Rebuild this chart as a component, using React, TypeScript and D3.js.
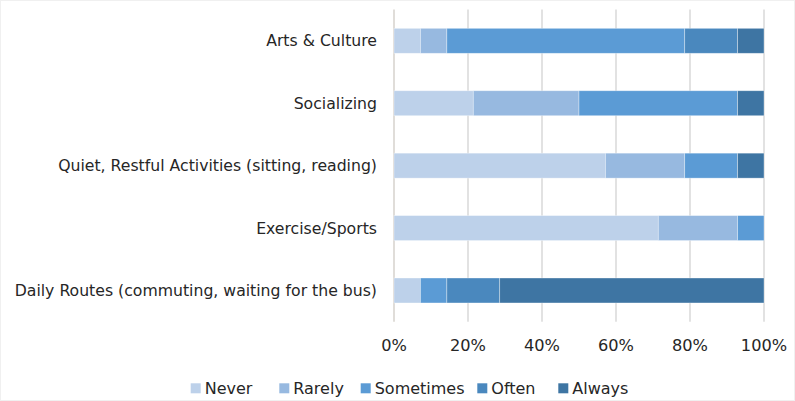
import React from "react";
import * as d3 from "d3";

const categories = [
  "Arts & Culture",
  "Socializing",
  "Quiet, Restful Activities (sitting, reading)",
  "Exercise/Sports",
  "Daily Routes (commuting, waiting for the bus)",
];
const seriesNames = ["Never", "Rarely", "Sometimes", "Often", "Always"];
const never = [7.14, 21.43, 57.14, 71.43, 7.14];
const rarely = [7.14, 28.57, 21.43, 21.43, 0];
const sometimes = [64.29, 42.86, 14.29, 7.14, 7.14];
const often = [14.29, 0, 0, 0, 14.29];
const always = [7.14, 7.14, 7.14, 0, 71.43];
const ticks = [0, 20, 40, 60, 80, 100];
const colors = ["#BDD1EA", "#97B9E0", "#5B9BD5", "#4A88BE", "#3E75A3"];

const W = 795;
const H = 401;
const FONT = "'DejaVu Sans', sans-serif";

export default function App() {
  const x = d3.scaleLinear().domain([0, 100]).range([394, 764]);
  const y = d3.scaleBand().domain(categories).range([9.6, 321.7]).paddingInner(0.6).paddingOuter(0.3);

  const rows = categories.map((c, i) => ({
    cat: c,
    Never: never[i],
    Rarely: rarely[i],
    Sometimes: sometimes[i],
    Often: often[i],
    Always: always[i],
  }));
  const stacked = d3.stack<any>().keys(seriesNames)(rows);

  const legendX = [190.7, 279.3, 360.7, 477.3, 558.3];

  return (
    <svg
      width={W}
      height={H}
      style={{ position: "fixed", left: 0, top: 0, background: "#fff" }}
      fontFamily={FONT}
    >
      <rect x={0.5} y={0.5} width={W - 1} height={H - 1} fill="#fff" stroke="#f0f0f0" />
      {ticks.map((t) => (
        <line
          key={t}
          x1={x(t)}
          x2={x(t)}
          y1={9.6}
          y2={321.7}
          stroke={t === 0 ? "#D6D2CC" : "#D9D9D9"}
          strokeWidth={1.5}
        />
      ))}
      {stacked.map((s, si) =>
        s.map((d, i) => {
          const w = x(d[1]) - x(d[0]);
          if (w <= 0) return null;
          return (
            <rect
              key={si + "-" + i}
              x={x(d[0])}
              y={y(categories[i])}
              width={w}
              height={y.bandwidth()}
              fill={colors[si]}
              stroke="#ffffff"
              strokeOpacity={0.45}
              strokeWidth={0.75}
            />
          );
        })
      )}
      {categories.map((c) => (
        <text
          key={c}
          x={377}
          y={(y(c) || 0) + y.bandwidth() / 2}
          textAnchor="end"
          dominantBaseline="central"
          fontSize={15.7}
          fill="#262626"
        >
          {c}
        </text>
      ))}
      {ticks.map((t) => (
        <text key={t} x={x(t)} y={351} textAnchor="middle" fontSize={16.2} fill="#262626">
          {t + "%"}
        </text>
      ))}
      {seriesNames.map((n, i) => (
        <g key={n}>
          <rect x={legendX[i]} y={383.3} width={10} height={10} fill={colors[i]} />
          <text x={legendX[i] + 14} y={394} fontSize={16} fill="#262626">
            {n}
          </text>
        </g>
      ))}
    </svg>
  );
}
